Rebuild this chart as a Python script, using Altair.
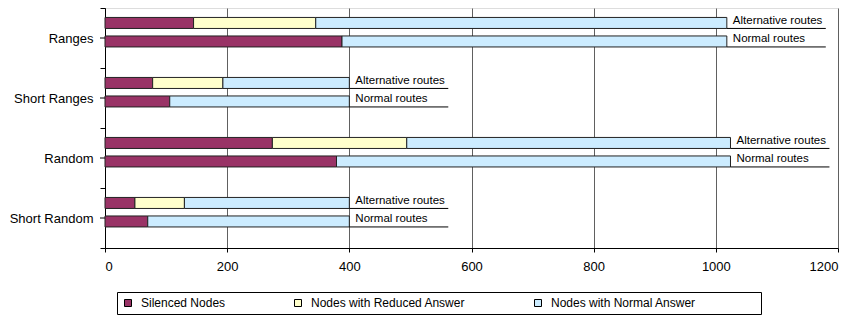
import altair as alt
import pandas as pd

groups = ["Ranges", "Short Ranges", "Random", "Short Random"]
routes = ["Alternative routes", "Normal routes"]
segments = ["Silenced Nodes", "Nodes with Reduced Answer", "Nodes with Normal Answer"]
colors = ["#993366", "#FFFFCC", "#CCECFF"]

alt_silenced = [145, 78, 274, 49]
alt_reduced = [200, 115, 220, 81]
alt_normal = [673, 207, 530, 270]
norm_silenced = [388, 106, 379, 70]
norm_reduced = [0, 0, 0, 0]
norm_normal = [630, 294, 645, 330]
x_ticks = [0, 200, 400, 600, 800, 1000, 1200]

series = {
    "Alternative routes": [alt_silenced, alt_reduced, alt_normal],
    "Normal routes": [norm_silenced, norm_reduced, norm_normal],
}

rows = []
tot_rows = []
for route, segs in series.items():
    for gi, g in enumerate(groups):
        total = 0
        for si, seg in enumerate(segments):
            v = segs[si][gi]
            total += v
            if v > 0:
                rows.append({"group": g, "route": route, "segment": seg, "value": v, "order": si})
        tot_rows.append({"group": g, "route": route, "total": total})
df = pd.DataFrame(rows)
tot = pd.DataFrame(tot_rows)

FONT = "Liberation Sans"

y_enc = alt.Y(
    "group:N", sort=groups,
    scale=alt.Scale(domain=groups, paddingInner=0, paddingOuter=0),
    axis=alt.Axis(title=None, tickBand="extent", tickSize=5, labelPadding=7,
                  labelFont=FONT, labelFontSize=13, labelColor="black",
                  domainColor="black", tickColor="black", grid=False),
)
yoff_scale = alt.Scale(domain=routes, paddingInner=0.405, paddingOuter=0.824, align=0.31)
# same bands shifted down by half a bar height: centres fall on the bar bottoms
yoff_under_scale = alt.Scale(domain=routes, paddingInner=0.405, paddingOuter=0.824, align=0.49)
x_scale = alt.Scale(domain=[0, 1200], nice=False)
x_axis = alt.Axis(title=None, values=x_ticks, format="d", grid=True, gridColor="#606060",
                  tickSize=4, labelPadding=8, labelFont=FONT, labelFontSize=13,
                  labelColor="black", domainColor="black", tickColor="black")

pad = "\u00a0" * 18 + "\u200b"
bars = alt.Chart(df).mark_bar(stroke="#222222", strokeWidth=1).encode(
    x=alt.X("value:Q", stack="zero", scale=x_scale, axis=x_axis),
    y=y_enc,
    yOffset=alt.YOffset("route:N", sort=routes, scale=yoff_scale),
    color=alt.Color(
        "segment:N",
        scale=alt.Scale(domain=segments, range=colors),
        legend=alt.Legend(
            title=None, orient="none", legendX=12, legendY=284,
            direction="horizontal", columns=3, symbolType="square",
            symbolSize=49, symbolStrokeColor="black", symbolStrokeWidth=1,
            labelFont=FONT, labelFontSize=12, labelColor="black",
            columnPadding=66, labelOffset=7, labelLimit=0,
            strokeColor="black", padding=5, fillColor="white",
            labelExpr="datum.label == 'Nodes with Normal Answer' ? datum.label + '" + pad + "' : datum.label",
        ),
    ),
    order=alt.Order("order:Q"),
)

labels = alt.Chart(tot).mark_text(
    align="left", baseline="alphabetic", dx=6, dy=1,
    font=FONT, fontSize=11.5, color="black",
).encode(
    x=alt.X("total:Q", scale=x_scale, axis=x_axis),
    y=y_enc,
    yOffset=alt.YOffset("route:N", sort=routes, scale=yoff_scale),
    text="route:N",
)

underline = alt.Chart(tot).transform_calculate(
    end="datum.total + 162"
).mark_rule(color="black", strokeWidth=1).encode(
    x=alt.X("total:Q", scale=x_scale, axis=x_axis),
    x2="end:Q",
    y=y_enc,
    yOffset=alt.YOffset("route:N", sort=routes, scale=yoff_under_scale),
)

center_ticks = alt.Chart(pd.DataFrame({"group": groups})).mark_rule(color="black").encode(
    y=y_enc,
    x=alt.value(-5),
    x2=alt.value(0),
)

main = alt.layer(bars, labels, center_ticks)
chart = alt.layer(main, underline).resolve_scale(yOffset="independent").properties(
    width=733, height=240,
    autosize=alt.AutoSizeParams(type="none"),
    padding={"left": 97, "top": 0, "right": 10, "bottom": 70},
).configure_view(stroke="#999999", strokeWidth=1).configure(background="white")

chart.save("out.html", embed_options={"renderer": "svg", "actions": False})
